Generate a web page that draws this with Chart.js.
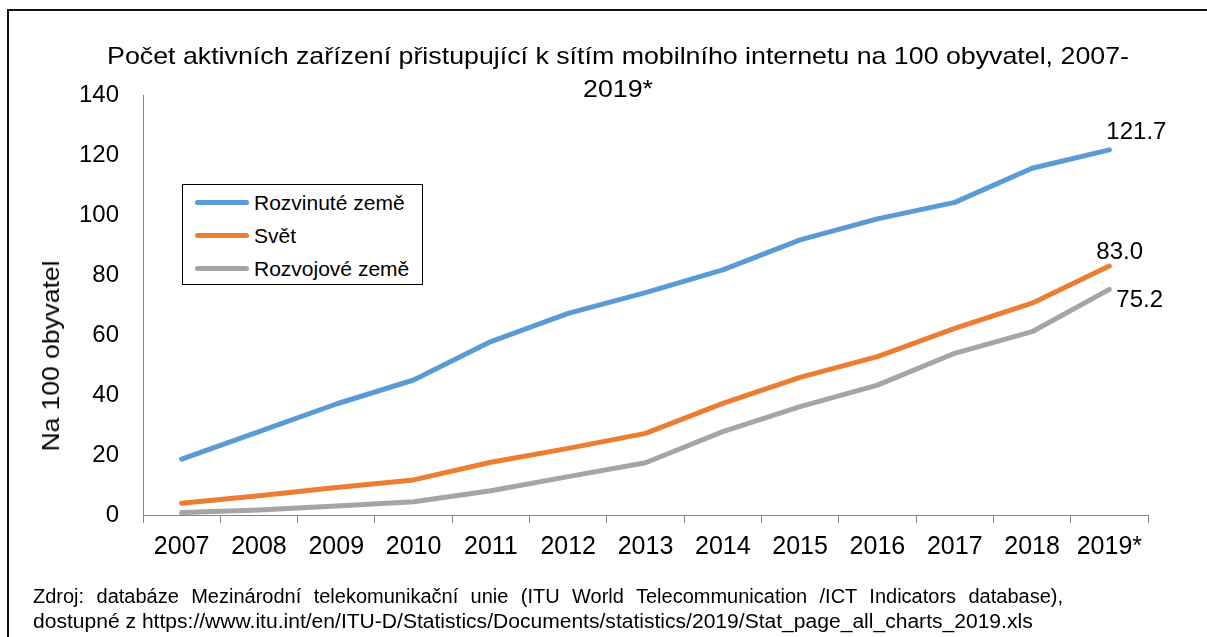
<!DOCTYPE html>
<html>
<head>
<meta charset="utf-8">
<script src="https://cdn.jsdelivr.net/npm/chart.js@4.4.1/dist/chart.umd.min.js"></script>
<style>
  html, body { margin: 0; padding: 0; background: #fff; }
  #wrap { position: relative; width: 1207px; height: 637px; overflow: hidden; font-family: "Liberation Sans", Arial, sans-serif; color: #000; }
  #frame { position: absolute; left: 7px; top: 9px; width: 1300px; height: 700px; border-top: 2px solid #111; border-left: 2px solid #111; }
  #c { position: absolute; left: 0; top: 0; }
  #title { position: absolute; left: 0; width: 1236px; top: 40px; text-align: center; font-size: 24px; line-height: 32.5px; white-space: nowrap; transform: scaleX(1.115); transform-origin: 618px 0; }
  #ytitle { position: absolute; left: 51px; top: 356px; transform: translate(-50%, -50%) rotate(-90deg) scaleX(1.1); font-size: 24px; line-height: 24px; white-space: nowrap; }
  #legend { position: absolute; left: 182px; top: 184px; width: 241px; height: 101px; box-sizing: border-box; border: 1.5px solid #000; background: #fff; }
  .lg-line { position: absolute; height: 5px; border-radius: 3px; }
  .lg-text { position: absolute; font-size: 21px; line-height: 21px; white-space: nowrap; }
  #footer { position: absolute; left: 33px; top: 584px; font-size: 20px; line-height: 25px; }
  #footer .l1 { width: 1030px; text-align: justify; text-align-last: justify; white-space: nowrap; }
  #footer .l2 { white-space: nowrap; transform: scaleX(1.053); transform-origin: 0 0; }
</style>
</head>
<body>
<div id="wrap">
  <div id="frame"></div>
  <canvas id="c" width="1207" height="637"></canvas>
  <div id="title">Počet aktivních zařízení přistupující k sítím mobilního internetu na 100 obyvatel, 2007-<br>2019*</div>
  <div id="ytitle">Na 100 obyvatel</div>
  <div id="legend"></div>
  <div id="footer">
    <div class="l1">Zdroj: databáze Mezinárodní telekomunikační unie (ITU World Telecommunication /ICT Indicators database),</div>
    <div class="l2">dostupné z https://www.itu.int/en/ITU-D/Statistics/Documents/statistics/2019/Stat_page_all_charts_2019.xls</div>
  </div>
</div>
<script>
// ---- data ----
const categories = ['2007','2008','2009','2010','2011','2012','2013','2014','2015','2016','2017','2018','2019*'];
const seriesNames = ['Rozvinuté země', 'Svět', 'Rozvojové země'];
const developed  = [18.6, 27.8, 37.0, 45.0, 57.8, 67.2, 74.1, 81.7, 91.7, 98.7, 104.2, 115.6, 121.7];
const world      = [3.9, 6.4, 9.2, 11.7, 17.6, 22.2, 27.2, 37.2, 45.9, 52.8, 62.2, 70.6, 83.0];
const developing = [0.8, 1.7, 3.0, 4.4, 8.1, 12.8, 17.4, 27.8, 36.1, 43.3, 53.9, 61.1, 75.2];
const yTickValues = [0, 20, 40, 60, 80, 100, 120, 140];
const seriesColors = ['#5B9BD5', '#ED7D31', '#A5A5A5'];

const FONT = '"Liberation Sans", Arial, sans-serif';

// ---- end-value labels ----
const labelOffsets = [ {dx: -3, dy: -17.5}, {dx: -13, dy: -13.5}, {dx: 7, dy: 11} ];
const endLabelPlugin = {
  id: 'endLabels',
  afterDatasetsDraw(chart) {
    const ctx = chart.ctx;
    ctx.save();
    ctx.font = '24px ' + FONT;
    ctx.fillStyle = '#000';
    ctx.textAlign = 'left';
    ctx.textBaseline = 'middle';
    chart.data.datasets.forEach((ds, i) => {
      const meta = chart.getDatasetMeta(i);
      const last = meta.data.length - 1;
      const pt = meta.data[last];
      const txt = ds.data[last].toFixed(1);
      ctx.fillText(txt, pt.x + labelOffsets[i].dx, pt.y + labelOffsets[i].dy);
    });
    ctx.restore();
  }
};

const seriesData = [developed, world, developing];
const chart = new Chart(document.getElementById('c'), {
  type: 'line',
  data: {
    labels: categories,
    datasets: seriesData.map((d, i) => ({
      label: seriesNames[i],
      data: d,
      borderColor: seriesColors[i],
      backgroundColor: seriesColors[i],
      borderWidth: 5,
      borderCapStyle: 'round',
      borderJoinStyle: 'round',
      pointRadius: 0,
      tension: 0,
      fill: false,
      order: 2 - i
    }))
  },
  options: {
    responsive: false,
    animation: false,
    devicePixelRatio: 1,
    layout: { padding: { left: 0, top: 95, right: 59, bottom: 62 } },
    plugins: { legend: { display: false }, tooltip: { enabled: false }, title: { display: false } },
    scales: {
      x: {
        type: 'category',
        offset: true,
        grid: { offset: true, drawOnChartArea: false, drawTicks: true, tickLength: 8, color: '#868686', lineWidth: 1 },
        border: { color: '#868686', width: 1 },
        ticks: { color: '#000', font: { family: FONT, size: 25 }, padding: 9, maxRotation: 0, autoSkip: false },
        afterFit(scale) { scale.height = 60; }
      },
      y: {
        min: yTickValues[0],
        max: yTickValues[yTickValues.length - 1],
        afterBuildTicks(scale) { scale.ticks = yTickValues.map(v => ({ value: v })); },
        grid: { drawOnChartArea: false, drawTicks: false },
        border: { color: '#868686', width: 1 },
        ticks: { color: '#000', font: { family: FONT, size: 24 }, padding: 24 },
        afterFit(scale) { scale.width = 143; }
      }
    }
  },
  plugins: [endLabelPlugin]
});

// ---- legend (HTML, from dataset names/colours) ----
const wrap = document.getElementById('wrap');
const legendRows = [202, 235, 268];
chart.data.datasets.forEach((ds, i) => {
  const ln = document.createElement('div');
  ln.className = 'lg-line';
  ln.style.left = '195px';
  ln.style.width = '54px';
  ln.style.top = (legendRows[i] - 2.5) + 'px';
  ln.style.background = ds.borderColor;
  wrap.appendChild(ln);
  const tx = document.createElement('div');
  tx.className = 'lg-text';
  tx.style.left = '254px';
  tx.style.top = (legendRows[i] - 10.5) + 'px';
  tx.textContent = ds.label;
  wrap.appendChild(tx);
});
</script>
</body>
</html>
